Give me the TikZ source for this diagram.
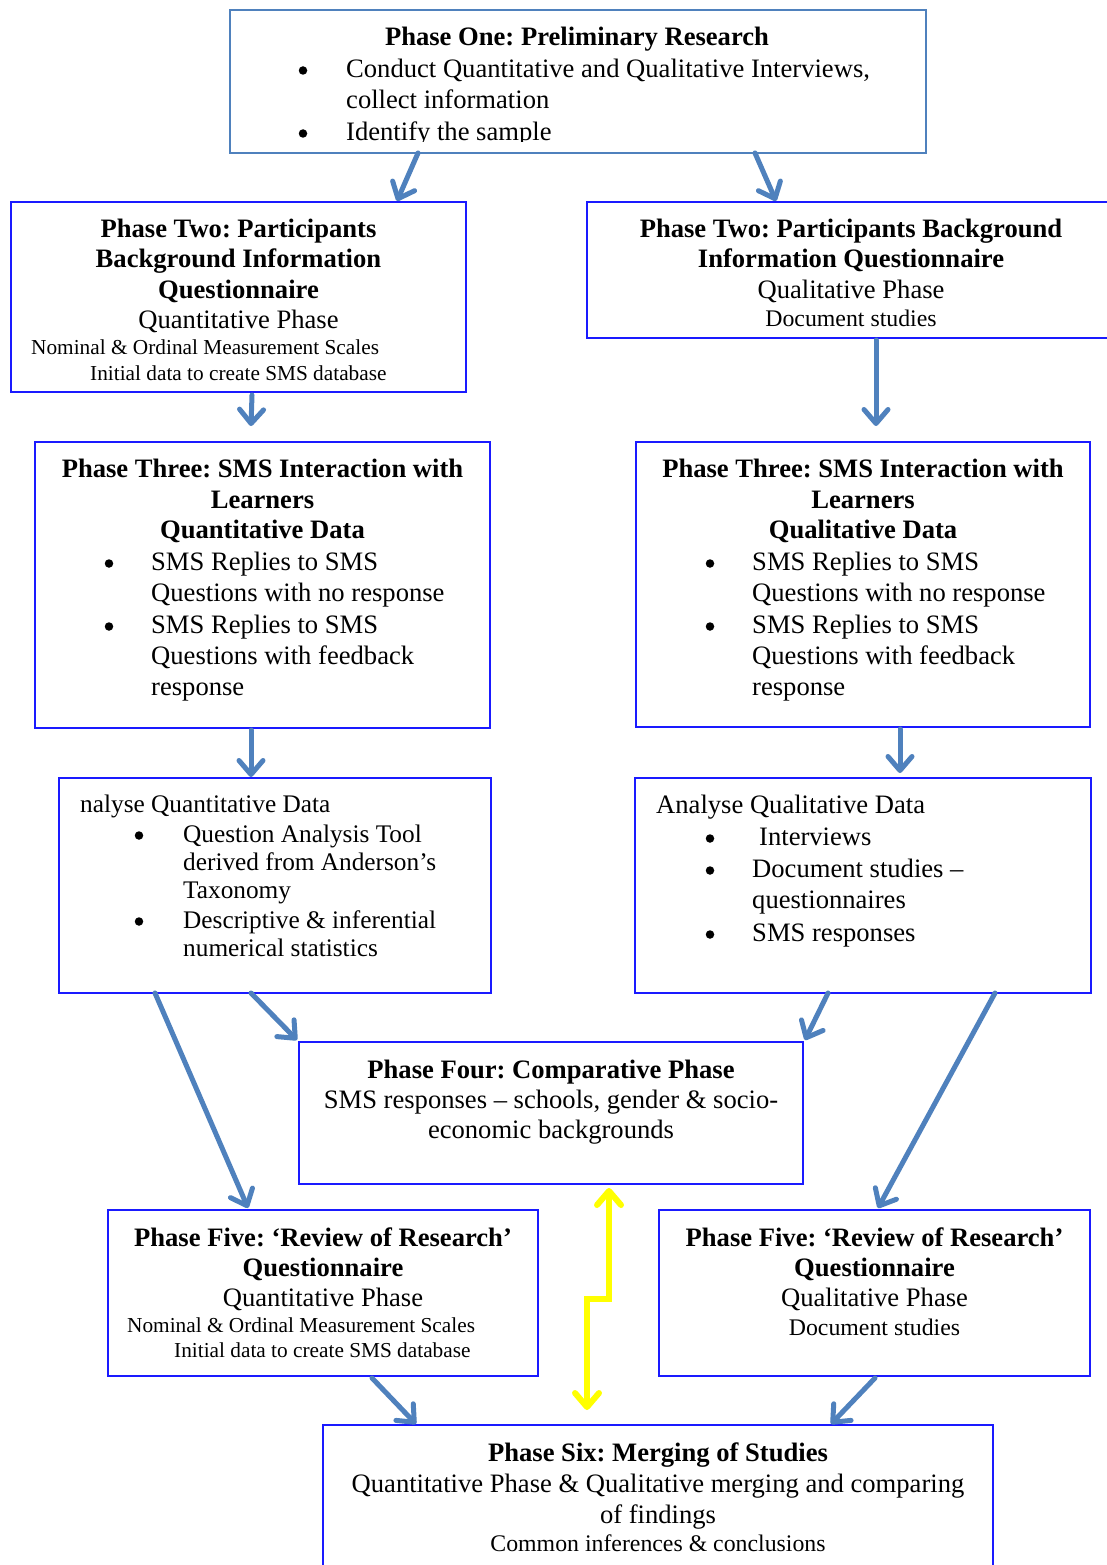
\documentclass[tikz,border=0pt]{standalone}
\usepackage{fontspec}
\setmainfont{Liberation Serif}
\usetikzlibrary{arrows.meta}
\definecolor{arrowblue}{HTML}{4F81BD}
\definecolor{boxblue}{HTML}{1A1AFF}
\definecolor{linkyellow}{HTML}{FFFF00}
\frenchspacing
\newcommand\szmain{\fontsize{26.6pt}{31pt}\selectfont}
\newcommand\szsmall{\fontsize{21.3pt}{25pt}\selectfont}
\newcommand\szmid{\fontsize{23.8pt}{28pt}\selectfont}
\newcommand\szcam{\fontsize{25.3pt}{28pt}\selectfont}
\tikzset{
  box/.style={draw=boxblue, line width=2pt, fill=white, inner sep=0pt, outer sep=0pt, anchor=north west},
  topbox/.style={box, draw=arrowblue, line width=2.5pt},
  hd/.style={anchor=base, inner sep=0pt, font=\szmain\bfseries},
  ctr/.style={anchor=base, inner sep=0pt, font=\szmain},
  lft/.style={anchor=base west, inner sep=0pt, font=\szmain},
  sml/.style={anchor=base west, inner sep=0pt, font=\szsmall},
  midc/.style={anchor=base, inner sep=0pt, font=\szmid},
  caml/.style={anchor=base west, inner sep=0pt, font=\szcam},
  % list bullet: a filled dot centred at the given point
  dot/.style={circle, fill=black, inner sep=0pt, minimum size=8.5pt},
  flow/.style={draw=arrowblue, line width=5pt, line cap=round, line join=round,
    -{Straight Barb[round, length=14pt, width=24pt]}},
  link/.style={draw=linkyellow, line width=6pt, line join=miter,
    {Straight Barb[round, length=14pt, width=24pt]}-{Straight Barb[round, length=14pt, width=24pt]}},
}
\begin{document}
\begin{tikzpicture}[x=1pt,y=-1pt]
\fill[white] (0,0) rectangle (1107,1565);
\useasboundingbox (0,0) rectangle (1107,1565);

% ---------- boxes ----------
\node[topbox, minimum width=696pt, minimum height=143pt] (p1)  at (230,10)   {};
\node[box, minimum width=455pt, minimum height=190pt]    (p2l) at (11,202)   {};
\node[box, minimum width=528pt, minimum height=136pt]    (p2r) at (587,202)  {};
\node[box, minimum width=455pt, minimum height=286pt]    (p3l) at (35,442)   {};
\node[box, minimum width=454pt, minimum height=285pt]    (p3r) at (636,442)  {};
\node[box, minimum width=432pt, minimum height=215pt]    (aql) at (59,778)   {};
\node[box, minimum width=456pt, minimum height=215pt]    (aqr) at (635,778)  {};
\node[box, minimum width=504pt, minimum height=142pt]    (p4)  at (299,1042) {};
\node[box, minimum width=430pt, minimum height=166pt]    (p5l) at (108,1210) {};
\node[box, minimum width=431pt, minimum height=166pt]    (p5r) at (659,1210) {};
\node[box, minimum width=670pt, minimum height=160pt]    (p6)  at (323,1425) {};

\begin{scope}[yshift=-1.5pt]
% ---------- Phase One ----------
\node[hd]  (p1a)  at (577,44)  {Phase One: Preliminary Research};
\node[dot] (p1bb) at (303,69)  {};
\node[lft] (p1b)  at (346,76)  {Conduct Quantitative and Qualitative Interviews,};
\node[lft] (p1c)  at (346,107) {collect information};
\node[dot] (p1db) at (303,132) {};
\begin{scope}
  \clip (230,8) rectangle (926,140);
  \node[lft] (p1d) at (346,139) {Identify the sample};
\end{scope}

% ---------- Phase Two ----------
\node[hd]  (p2la) at (238.5,236) {Phase Two: Participants};
\node[hd]  (p2lb) at (238.5,266) {Background Information};
\node[hd]  (p2lc) at (238.5,297) {Questionnaire};
\node[ctr] (p2ld) at (238.5,327) {Quantitative Phase};
\node[sml] (p2le) at (31,353)    {Nominal \& Ordinal Measurement Scales};
\node[sml] (p2lf) at (90,379)    {Initial data to create SMS database};

\node[hd]   (p2ra) at (851,236) {Phase Two: Participants Background};
\node[hd]   (p2rb) at (851,266) {Information Questionnaire};
\node[ctr]  (p2rc) at (851,297) {Qualitative Phase};
\node[midc] (p2rd) at (851,325) {Document studies};

% ---------- Phase Three ----------
\node[hd]  (p3la)  at (262.5,476) {Phase Three: SMS Interaction with};
\node[hd]  (p3lb)  at (262.5,507) {Learners};
\node[hd]  (p3lc)  at (262.5,537) {Quantitative Data};
\node[dot] (p3ldb) at (109,562)   {};
\node[lft] (p3ld)  at (151,569)   {SMS Replies to SMS};
\node[lft] (p3le)  at (151,600)   {Questions with no response};
\node[dot] (p3lfb) at (109,625)   {};
\node[lft] (p3lf)  at (151,632)   {SMS Replies to SMS};
\node[lft] (p3lg)  at (151,663)   {Questions with feedback};
\node[lft] (p3lh)  at (151,694)   {response};

\node[hd]  (p3ra)  at (863,476) {Phase Three: SMS Interaction with};
\node[hd]  (p3rb)  at (863,507) {Learners};
\node[hd]  (p3rc)  at (863,537) {Qualitative Data};
\node[dot] (p3rdb) at (710,562) {};
\node[lft] (p3rd)  at (752,569) {SMS Replies to SMS};
\node[lft] (p3re)  at (752,600) {Questions with no response};
\node[dot] (p3rfb) at (710,625) {};
\node[lft] (p3rf)  at (752,632) {SMS Replies to SMS};
\node[lft] (p3rg)  at (752,663) {Questions with feedback};
\node[lft] (p3rh)  at (752,694) {response};

% ---------- Analysis ----------
\node[caml] (aqla)  at (80,811)  {nalyse Quantitative Data};
\node[dot]  (aqlbb) at (139,834) {};
\node[caml] (aqlb)  at (183,841) {Question Analysis Tool};
\node[caml] (aqlc)  at (183,869) {derived from Anderson’s};
\node[caml] (aqld)  at (183,897) {Taxonomy};
\node[dot]  (aqleb) at (139,920) {};
\node[caml] (aqle)  at (183,927) {Descriptive \& inferential};
\node[caml] (aqlf)  at (183,955) {numerical statistics};

\node[lft] (aqra)  at (656,812) {Analyse Qualitative Data};
\node[dot] (aqrbb) at (710,837) {};
\node[lft] (aqrb)  at (759,844) {Interviews};
\node[dot] (aqrcb) at (710,869) {};
\node[lft] (aqrc)  at (752,876) {Document studies –};
\node[lft] (aqrd)  at (752,907) {questionnaires};
\node[dot] (aqreb) at (710,933) {};
\node[lft] (aqre)  at (752,940) {SMS responses};

% ---------- Phase Four ----------
\node[hd]  (p4a) at (551,1077) {Phase Four: Comparative Phase};
\node[ctr] (p4b) at (551,1107) {SMS responses – schools, gender \& socio-};
\node[ctr] (p4c) at (551,1137) {economic backgrounds};

% ---------- Phase Five ----------
\node[hd]  (p5la) at (323,1245) {Phase Five: ‘Review of Research’};
\node[hd]  (p5lb) at (323,1275) {Questionnaire};
\node[ctr] (p5lc) at (323,1305) {Quantitative Phase};
\node[sml] (p5ld) at (127,1331) {Nominal \& Ordinal Measurement Scales};
\node[sml] (p5le) at (174,1356) {Initial data to create SMS database};

\node[hd]   (p5ra) at (874.5,1245) {Phase Five: ‘Review of Research’};
\node[hd]   (p5rb) at (874.5,1275) {Questionnaire};
\node[ctr]  (p5rc) at (874.5,1305) {Qualitative Phase};
\node[midc] (p5rd) at (874.5,1334) {Document studies};

% ---------- Phase Six ----------
\node[hd]   (p6a) at (658,1460) {Phase Six: Merging of Studies};
\node[ctr]  (p6b) at (658,1491) {Quantitative Phase \& Qualitative merging and comparing};
\node[ctr]  (p6c) at (658,1522) {of findings};
\node[midc] (p6d) at (658,1550) {Common inferences \& conclusions};
\end{scope}

% ---------- connectors ----------
\draw[flow] ([xshift=188pt]p1.south west) -- ([xshift=386pt,yshift=1pt]p2l.north west);
\draw[flow] ([xshift=525pt]p1.south west) -- ([xshift=189pt,yshift=1pt]p2r.north west);
\draw[flow] ([xshift=241pt,yshift=-3pt]p2l.south west) -- ([xshift=216pt,yshift=16pt]p3l.north west);
\draw[flow] ([xshift=289pt,yshift=-2pt]p2r.south west) -- ([xshift=240pt,yshift=16pt]p3r.north west);
\draw[flow] ([xshift=216pt,yshift=-2pt]p3l.south west) -- ([xshift=192pt,yshift=1pt]aql.north west);
\draw[flow] ([xshift=264pt,yshift=-2pt]p3r.south west) -- ([xshift=265pt,yshift=5pt]aqr.north west);
\draw[flow] ([xshift=192pt]aql.south west) -- ([xshift=-2pt,yshift=2pt]p4.north west);
\draw[flow] ([xshift=193pt]aqr.south west) -- ([xshift=2pt,yshift=2pt]p4.north east);
\draw[flow] ([xshift=96pt]aql.south west) -- ([xshift=140pt,yshift=2pt]p5l.north west);
\draw[flow] ([xshift=360pt]aqr.south west) -- ([xshift=219pt,yshift=2pt]p5r.north west);
\draw[flow] ([xshift=264pt,yshift=-2pt]p5l.south west) -- ([xshift=93pt,yshift=1pt]p6.north west);
\draw[flow] ([xshift=216pt,yshift=-2pt]p5r.south west) -- ([xshift=508pt,yshift=1pt]p6.north west);

% two-way link between the comparative phase and the merging phase
\draw[link] ([xshift=310pt,yshift=-4pt]p4.south west) -- ++(0,111) -- ++(-22,0)
  -- ([xshift=264pt,yshift=15pt]p6.north west);
\end{tikzpicture}
\end{document}
